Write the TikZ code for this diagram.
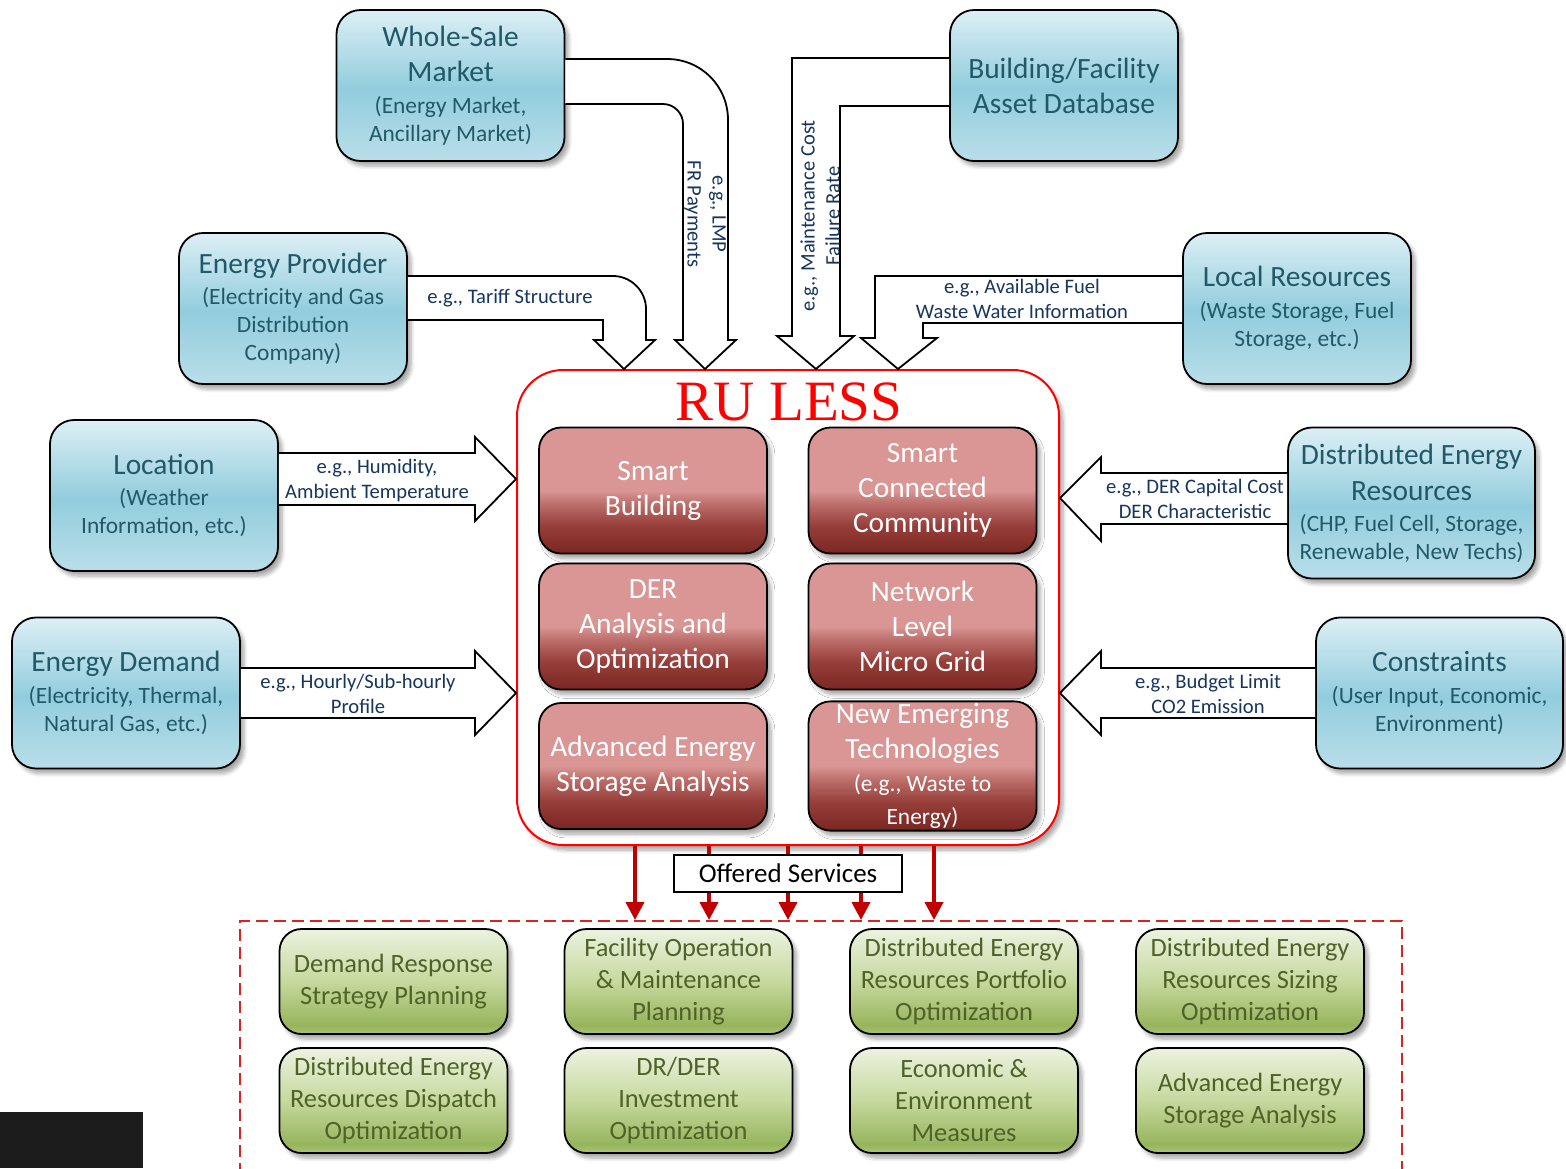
\documentclass[tikz,border=0pt]{standalone}
\usepackage{fontspec}
\setmainfont{Carlito}
\newfontfamily\titlefont{Liberation Serif}
\usepackage{tikz}
\usetikzlibrary{shapes,arrows.meta,positioning,shadows.blur,calc}

\definecolor{tealtext}{RGB}{33,89,104}
\definecolor{navytext}{RGB}{23,54,93}
\definecolor{olivetext}{RGB}{79,98,40}
\definecolor{bluetop}{RGB}{220,239,245}
\definecolor{bluemid}{RGB}{146,205,221}
\definecolor{bluebot}{RGB}{185,222,233}
\definecolor{redtop}{RGB}{217,150,148}
\definecolor{redmid}{RGB}{190,112,108}
\definecolor{redlow}{RGB}{150,62,58}
\definecolor{redbot}{RGB}{122,38,34}
\definecolor{greentop}{RGB}{236,242,224}
\definecolor{greenmid}{RGB}{198,217,158}
\definecolor{greenlow}{RGB}{150,180,92}
\definecolor{greenbot}{RGB}{172,197,122}
\definecolor{corered}{RGB}{255,0,0}
\definecolor{svcred}{RGB}{192,0,0}
\definecolor{dashred}{RGB}{215,35,35}
\definecolor{darkbar}{RGB}{28,28,28}

\pgfdeclareverticalshading{bluegrad}{100bp}{color(0bp)=(bluebot); color(25bp)=(bluebot); color(49bp)=(bluemid); color(75bp)=(bluetop); color(100bp)=(bluetop)}
\pgfdeclareverticalshading{redgrad}{100bp}{color(0bp)=(redbot); color(25bp)=(redbot); color(36bp)=(redlow); color(45bp)=(redmid); color(50bp)=(redtop); color(75bp)=(redtop); color(100bp)=(redtop)}
\pgfdeclareverticalshading{greengrad}{100bp}{color(0bp)=(greenbot); color(25bp)=(greenbot); color(29bp)=(greenlow); color(50bp)=(greenmid); color(75bp)=(greentop); color(100bp)=(greentop)}

\newcommand{\boxhead}{\fontsize{14.7}{17.5}\selectfont}
\newcommand{\boxsub}{\fontsize{11.7}{14}\selectfont}

\begin{document}
\begin{tikzpicture}[
    x=0.5pt, y=-0.5pt,
    softshadow/.style={blur shadow={shadow xshift=2pt, shadow yshift=-2.5pt, shadow blur steps=6, shadow opacity=35}},
    infobox/.style={rectangle, rounded corners=12pt, draw=black, line width=0.9pt, shading=bluegrad, text=tealtext, align=center, font=\boxsub, minimum width=114pt, minimum height=75.5pt, inner sep=1pt, softshadow},
    corebox/.style={rectangle, rounded corners=11pt, draw=black, line width=0.9pt, shading=redgrad, text=white, align=center, font=\boxhead, minimum width=114pt, minimum height=63pt, inner sep=1pt, softshadow},
    servicebox/.style={rectangle, rounded corners=11pt, draw=black, line width=0.9pt, shading=greengrad, text=olivetext, align=center, font=\fontsize{13.2}{16}\selectfont, minimum width=114pt, minimum height=52.5pt, inner sep=1pt, softshadow},
    blockarrow/.style={draw=black, fill=white, line width=0.9pt, line join=miter},
    hint/.style={text=navytext, align=center, font=\fontsize{10.3}{12.5}\selectfont, inner sep=0pt},
    svcarrow/.style={draw=svcred, line width=2pt, -{Triangle[width=9pt,length=9pt]}}
]
    \path[use as bounding box, clip] (0,0) rectangle (1566,1168);

    % input sources
    \node[infobox] (wsMarket) at (450.5,85.5) {{\boxhead Whole-Sale}\\[3.5pt]{\boxhead Market}\\[2pt](Energy Market,\\Ancillary Market)};
    \node[infobox, font=\boxhead] (assetDb) at (1064,85.5) {Building/Facility\\Asset Database};
    \node[infobox] (provider) at (293,308.5) {{\boxhead Energy Provider}\\[1.5pt](Electricity and Gas\\Distribution\\Company)};
    \node[infobox] (localRes) at (1297,308.5) {{\boxhead Local Resources}\\[2pt](Waste Storage, Fuel\\Storage, etc.)};
    \node[infobox] (location) at (164,495.5) {{\boxhead Location}\\[1.5pt](Weather\\Information, etc.)};
    \node[infobox, minimum width=123.5pt] (derRes) at (1411.5,503) {{\boxhead Distributed Energy}\\[4pt]{\boxhead Resources}\\[1.5pt](CHP, Fuel Cell, Storage,\\Renewable, New Techs)};
    \node[infobox] (demand) at (126,693) {{\boxhead Energy Demand}\\[2pt](Electricity, Thermal,\\Natural Gas, etc.)};
    \node[infobox, minimum width=123.5pt] (constraints) at (1439.5,693) {{\boxhead Constraints}\\[2pt](User Input, Economic,\\Environment)};

    % core platform
    \node[rectangle, rounded corners=23pt, draw=corered, line width=1pt, fill=white, minimum width=271pt, minimum height=237.5pt, softshadow] (ruless) at (788,607.5) {};
    \node[anchor=base, text=corered, font=\titlefont\fontsize{28.5}{30}\selectfont, inner sep=0pt] (rulessTitle) at (789,420) {RU LESS};
    \node[corebox] (smartBldg) at (653,490.5) {Smart\\Building};
    \node[corebox] (smartComm) at (922.5,490.5) {Smart\\Connected\\Community};
    \node[corebox] (derOpt) at (653,626.5) {DER\\Analysis and\\Optimization};
    \node[corebox] (microGrid) at (922.5,626.5) {Network\\Level\\Micro Grid};
    \node[corebox] (storage) at (653,766) {Advanced Energy\\Storage Analysis};
    \node[corebox] (emerging) at (922.5,766) {New Emerging\\Technologies\\[-1pt]{\boxsub (e.g., Waste to}\\[-1pt]{\boxsub Energy)}};

    % block arrows into the core
    \draw[blockarrow] (wsMarket.east|-0,59) -- (667,59) .. controls (701,59) and (728,86) .. (728,120) -- (728,340) -- (736,340) -- (705,0 |- ruless.north) -- (675,340) -- (683,340) -- (683,124) .. controls (683,113) and (674,104) .. (663,104) -- (wsMarket.east|-0,104);
    \draw[blockarrow] (provider.east|-0,276) -- (613,276) .. controls (631,276) and (646,291) .. (646,309) -- (646,340) -- (655,340) -- (624,0 |- ruless.north) -- (594,340) -- (603,340) -- (603,320) -- (provider.east|-0,320);
    \draw[blockarrow] (assetDb.west|-0,58) -- (792,58) -- (792,336) -- (777,336) -- (816,0 |- ruless.north) -- (854,336) -- (840,336) -- (840,106) -- (assetDb.west|-0,106);
    \draw[blockarrow] (localRes.west|-0,276) -- (875,276) -- (875,338) -- (861,338) -- (898,0 |- ruless.north) -- (937,338) -- (923,338) -- (923,323) -- (localRes.west|-0,323);
    \draw[blockarrow] (location.east|-0,453) -- (475,453) -- (475,437) -- (ruless.west|-0,479) -- (475,521) -- (475,505) -- (location.east|-0,505);
    \draw[blockarrow] (demand.east|-0,668) -- (475,668) -- (475,651) -- (ruless.west|-0,693) -- (475,735) -- (475,718) -- (demand.east|-0,718);
    \draw[blockarrow] (derRes.west|-0,473) -- (1101,473) -- (1101,457) -- (ruless.east|-0,498) -- (1101,541) -- (1101,524) -- (derRes.west|-0,524);
    \draw[blockarrow] (constraints.west|-0,668) -- (1101,668) -- (1101,651) -- (ruless.east|-0,693) -- (1101,735) -- (1101,718) -- (constraints.west|-0,718);

    % arrow labels
    \node[hint, rotate=-90] (lmpLbl) at (705,214) {e.g., LMP\\FR Payments};
    \node[hint] (tariffLbl) at (510,298) {e.g., Tariff Structure};
    \node[hint, rotate=90] (costLbl) at (820,216) {e.g., Maintenance Cost\\Failure Rate};
    \node[hint] (fuelLbl) at (1022,299) {e.g., Available Fuel\\Waste Water Information};
    \node[hint] (humidLbl) at (377,480) {e.g., Humidity,\\Ambient Temperature};
    \node[hint] (profileLbl) at (358,694) {e.g., Hourly/Sub-hourly\\Profile};
    \node[hint] (capexLbl) at (1195,499) {e.g., DER Capital Cost\\DER Characteristic};
    \node[hint] (budgetLbl) at (1208,694) {e.g., Budget Limit\\CO2 Emission};

    % offered services
    \node[rectangle, draw=dashred, dash pattern=on 6pt off 3pt, line width=1pt, minimum width=581pt, minimum height=139pt] (services) at (821,1060) {};
    \foreach \xx in {635,709,788,861,934}
        \draw[svcarrow] (\xx,0 |- ruless.south) -- (\xx,0 |- services.north);
    \node[rectangle, draw=black, fill=white, line width=0.9pt, minimum width=114pt, minimum height=18.5pt, font=\fontsize{13.5}{15}\selectfont] (offered) at (788,873.5) {Offered Services};

    \node[servicebox] (drPlan) at (393.5,981.5) {Demand Response\\Strategy Planning};
    \node[servicebox] (fomPlan) at (678.5,981.5) {Facility Operation\\\& Maintenance\\Planning};
    \node[servicebox] (portfolio) at (964,981.5) {Distributed Energy\\Resources Portfolio\\Optimization};
    \node[servicebox] (sizing) at (1250,981.5) {Distributed Energy\\Resources Sizing\\Optimization};
    \node[servicebox] (dispatch) at (393.5,1100.5) {Distributed Energy\\Resources Dispatch\\Optimization};
    \node[servicebox] (invest) at (678.5,1100.5) {DR/DER\\Investment\\Optimization};
    \node[servicebox] (econEnv) at (964,1100.5) {Economic \&\\Environment\\Measures};
    \node[servicebox] (storageSvc) at (1250,1100.5) {Advanced Energy\\Storage Analysis};

    \fill[darkbar] (0,1112) rectangle (143,1168);
\end{tikzpicture}
\end{document}
